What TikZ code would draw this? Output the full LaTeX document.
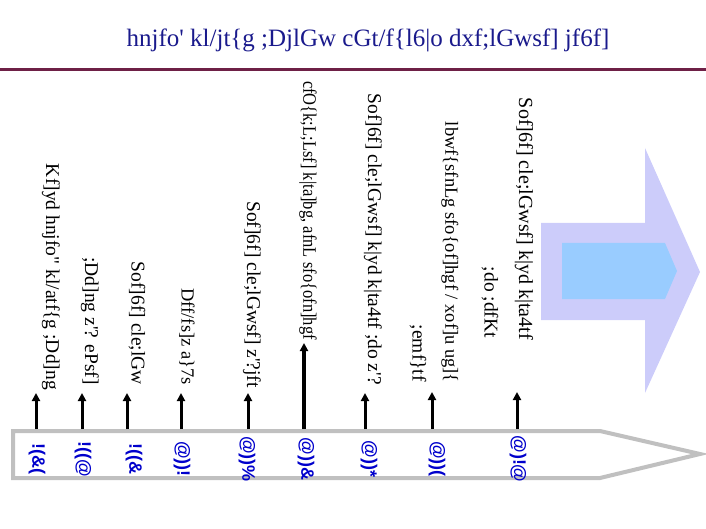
\documentclass[tikz,border=0pt]{standalone}
\usepackage{fontspec}
\setmainfont{Liberation Serif}[Ligatures=TeXOff]
\newfontfamily\narrowserif{Liberation Serif}[Ligatures=TeXOff, FakeStretch=0.87]
\newfontfamily\yearfont{Liberation Sans}[Ligatures=TeXOff]
\usetikzlibrary{arrows.meta}
\definecolor{titleblue}{RGB}{26,26,140}
\definecolor{rulemaroon}{RGB}{110,32,70}
\definecolor{tlgray}{RGB}{192,192,192}
\definecolor{yearblue}{RGB}{0,0,204}
\definecolor{outerlav}{RGB}{204,204,250}
\definecolor{innerblue}{RGB}{153,204,255}
\begin{document}
\begin{tikzpicture}[x=1pt,y=-1pt,
  evtext/.style={rotate=-90, anchor=east, inner sep=0pt, font=\fontsize{19.5}{22}\selectfont},
  yearlbl/.style={rotate=-90, inner sep=0pt, text=yearblue, font=\yearfont\bfseries\fontsize{18}{20}\selectfont},
  tick/.style={line width=3pt, -{Triangle[length=8pt,width=8pt]}},
  timeline/.style={draw=tlgray, line width=4pt, fill=white},
  bigouter/.style={fill=outerlav, draw=none},
  biginner/.style={fill=innerblue, draw=none}]
\useasboundingbox (0,0) rectangle (706,529);
% big arrow
\fill[bigouter] (541,223) -- (645,223) -- (645,148) -- (700,272) -- (645,393) -- (645,320) -- (541,320) -- cycle;
\fill[biginner] (562,243) -- (665,243) -- (677,271) -- (665,299) -- (562,299) -- cycle;
% title and rule
\node[anchor=base, inner sep=0pt, text=titleblue, font=\fontsize{25}{29}\selectfont] (title) at (368,47)
  {hnjfo' kl/jt\{g ;DjlGw cGt/f\{l6|o dxf;lGwsf] jf6f]};
\coordinate (ruleL) at (0,69.5);
\coordinate (ruleR) at (706,69.5);
\draw[rulemaroon, line width=3pt] (ruleL) -- (ruleR);
% timeline
\path[timeline] (13,431) -- (600,431) -- (700,454) -- (600,478) -- (13,478) -- cycle;
% years
\node[yearlbl] (y1) at (37,459) {!(\&(};
\node[yearlbl] (y2) at (83,459) {!((@};
\node[yearlbl] (y3) at (134,459) {!((\&};
\node[yearlbl] (y4) at (182,459) {@))!};
\node[yearlbl] (y5) at (247,459) {@))\%};
\node[yearlbl] (y6) at (306,459) {@))\&};
\node[yearlbl] (y7) at (369,459) {@))*};
\node[yearlbl] (y8) at (437,459) {@))(};
\node[yearlbl] (y9) at (518,459) {@)!@};
% ticks
\foreach \i/\x/\t in {1/36/393, 2/82/393, 3/127/393, 4/181/393, 5/248/393, 7/365/393, 8/432/392, 9/517/392}{
  \coordinate (b\i) at (\x,429);
  \coordinate (a\i) at (\x,\t);
  \draw[tick] (b\i) -- (a\i);
}
\coordinate (b6) at (304,429);
\coordinate (a6) at (304,343);
\draw[tick, line width=4pt] (b6) -- (a6);
% event texts
\node[evtext] (e1) at (51,390) {Kf]yd hnjfo" kl/atf\{g ;Dd]ng};
\node[evtext] (e2) at (90,385) {;Dd]ng z'? ePsf]};
\node[evtext] (e3) at (137,385) {Sof]6f] cle;lGw};
\node[evtext, font=\fontsize{18.5}{21}\selectfont] (e4) at (187,385) {Dff/fs]z a\}7s};
\node[evtext] (e5) at (252,388) {Sof]6f] cle;lGwsf] z'?jft};
\node[evtext, font=\narrowserif\fontsize{19}{22}\selectfont] (e6) at (308,340) {cfO\{k;L;Lsf] k|ta]bg, afnL sfo\{ofn]hgf};
\node[evtext] (e7) at (373,385) {Sof]6f] cle;lGwsf] k|yd k|ta4tf ;do z'?};
\node[evtext, font=\fontsize{18.5}{21}\selectfont] (e8a) at (450,383) {lbwf\{sfnLg sfo\{of]hgf / xof]u ug]\{};
\node[evtext] (e8b) at (418,382) {;emf\}tf};
\node[evtext, font=\fontsize{20}{23}\selectfont] (e9a) at (524,340) {Sof]6f] cle;lGwsf] k|yd k|ta4tf};
\node[evtext] (e9b) at (490,338) {;do ;dfKt};
\end{tikzpicture}
\end{document}
